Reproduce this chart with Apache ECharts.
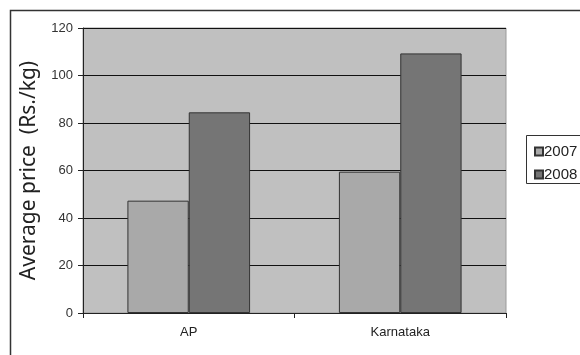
<!DOCTYPE html>
<html>
<head>
<meta charset="utf-8">
<script src="https://cdn.jsdelivr.net/npm/echarts@6/dist/echarts.min.js"></script>
<style>
  html, body { margin: 0; padding: 0; background: #fff; }
  #chart { width: 580px; height: 355px; }
</style>
</head>
<body>
<div id="chart"></div>
<script>
// Average price per state, two years
const categories = ['AP', 'Karnataka'];
const years = ['2007', '2008'];
const price2007 = [47.3, 59.5];
const price2008 = [84.5, 109.3];
const yTicks = [0, 20, 40, 60, 80, 100, 120];

const chart = echarts.init(document.getElementById('chart'), null, { renderer: 'canvas' });

const font = 'Liberation Sans, Arial, sans-serif';

chart.setOption({
  animation: false,
  backgroundColor: '#ffffff',
  graphic: [
    {
      type: 'rect',
      shape: { x: 10.5, y: 10.5, width: 600, height: 400 },
      style: { fill: 'none', stroke: '#333', lineWidth: 1.5 },
      z: -1
    },
    {
      type: 'rect',
      shape: { x: 526.5, y: 135.5, width: 80, height: 48 },
      style: { fill: '#fff', stroke: '#333', lineWidth: 1 },
      z: 0
    }
  ],
  grid: {
    left: 83, right: 74, top: 28, bottom: 42,
    show: true,
    backgroundColor: '#c0c0c0',
    borderColor: '#9a9a9a',
    borderWidth: 1
  },
  legend: {
    orient: 'vertical',
    left: 529,
    top: 139,
    itemWidth: 8,
    itemHeight: 8,
    itemGap: 8,
    icon: 'rect',
    textStyle: { fontFamily: font, fontSize: 15, color: '#222', padding: [0, 0, 0, -4] },
    data: years,
    z: 5
  },
  xAxis: {
    type: 'category',
    data: categories,
    axisLine: { lineStyle: { color: '#222', width: 1 } },
    axisTick: { show: true, length: 5, lineStyle: { color: '#222' } },
    axisLabel: { fontFamily: font, fontSize: 13, color: '#222', margin: 13 },
    splitLine: { show: false }
  },
  yAxis: {
    type: 'value',
    min: yTicks[0],
    max: yTicks[yTicks.length - 1],
    interval: 20,
    name: 'Average price  (Rs./kg)',
    nameLocation: 'middle',
    nameRotate: 90,
    nameGap: 43,
    nameTextStyle: { fontFamily: 'Noto Sans, sans-serif', fontSize: 21, color: '#222' },
    axisLine: { show: true, lineStyle: { color: '#222', width: 1 } },
    axisTick: { show: true, length: 5, lineStyle: { color: '#222' } },
    axisLabel: { fontFamily: font, fontSize: 13, color: '#333', margin: 10 },
    splitLine: { show: true, lineStyle: { color: '#111', width: 1 } }
  },
  series: [
    {
      name: years[0],
      type: 'bar',
      data: price2007,
      barGap: '0%',
      barCategoryGap: '42%',
      itemStyle: { color: '#a9a9a9', borderColor: '#333', borderWidth: 1 }
    },
    {
      name: years[1],
      type: 'bar',
      data: price2008,
      barGap: '0%',
      barCategoryGap: '42%',
      itemStyle: { color: '#757575', borderColor: '#333', borderWidth: 1 }
    }
  ]
});
</script>
</body>
</html>
